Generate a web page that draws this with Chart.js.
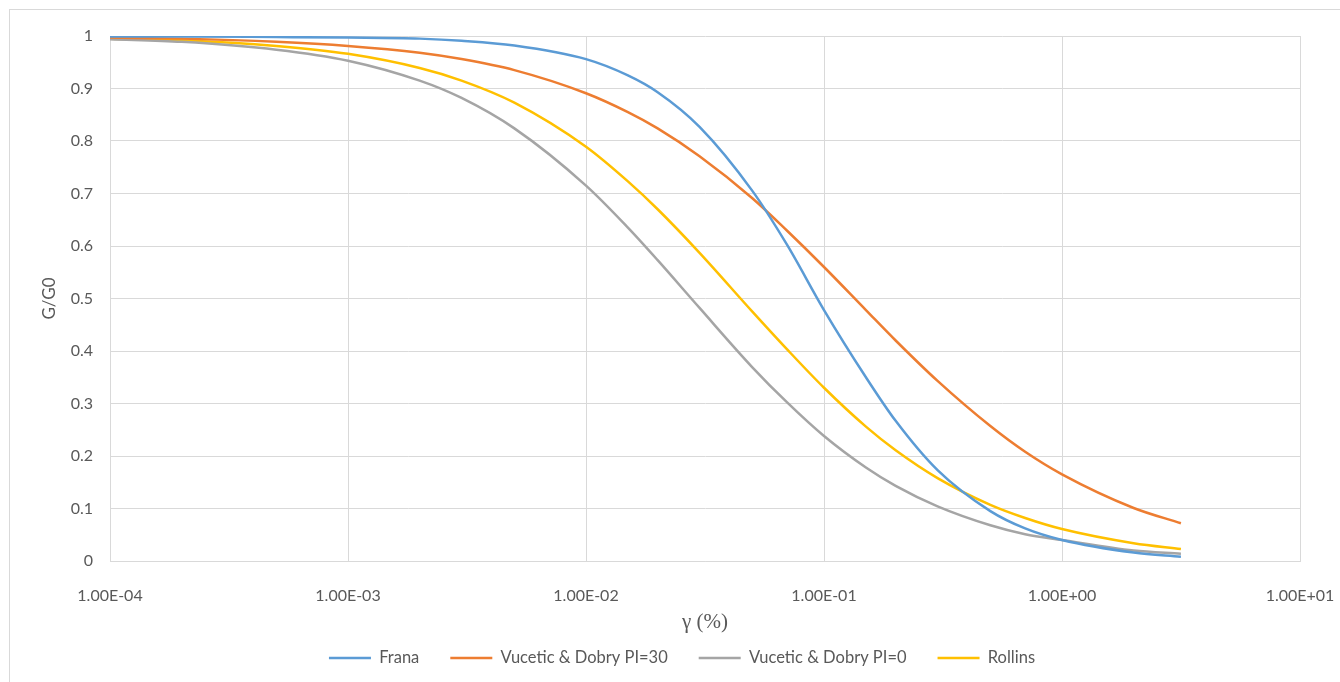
<!DOCTYPE html>
<html>
<head>
<meta charset="utf-8">
<script src="https://cdn.jsdelivr.net/npm/chart.js@4.4.1/dist/chart.umd.min.js"></script>
<style>
    html, body { margin: 0; padding: 0; background: #ffffff; }
    #wrap { position: relative; width: 1340px; height: 682px; overflow: hidden; }
    #frame { position: absolute; left: 9px; top: 9px; width: 1340px; height: 690px; border: 1px solid #d9d9d9; box-sizing: border-box; }
    canvas { position: absolute; left: 0; top: 0; }
</style>
</head>
<body>
<div id="wrap">
    <div id="frame"></div>
    <canvas id="chart" width="1340" height="682"></canvas>
</div>
<script>
// Shear strain (%) - shared x values of all curves
const STRAIN = [1e-4, 2e-4, 5e-4, 1e-3, 2e-3, 3e-3, 5e-3, 1e-2, 1.5e-2, 2e-2, 3e-2, 5e-2, 7e-2,
    1e-1, 1.5e-1, 2e-1, 3e-1, 5e-1, 7e-1, 1, 2, 3.16];

// G/G0 values
const FRANA = [0.999, 0.999, 0.998, 0.997, 0.995, 0.991, 0.982, 0.956, 0.925, 0.893, 0.827, 0.705, 0.602,
    0.478, 0.350, 0.267, 0.173, 0.095, 0.062, 0.040, 0.016, 0.008];
const VD_PI30 = [0.997, 0.995, 0.989, 0.981, 0.968, 0.956, 0.935, 0.891, 0.855, 0.824, 0.771, 0.691, 0.629,
    0.560, 0.478, 0.420, 0.343, 0.257, 0.208, 0.165, 0.101, 0.072];
const VD_PI0 = [0.994, 0.989, 0.974, 0.953, 0.915, 0.882, 0.824, 0.715, 0.635, 0.573, 0.482, 0.369, 0.302,
    0.238, 0.178, 0.143, 0.104, 0.068, 0.051, 0.040, 0.020, 0.014];
const ROLLINS = [0.995, 0.992, 0.981, 0.966, 0.939, 0.915, 0.873, 0.789, 0.723, 0.670, 0.587, 0.475, 0.403,
    0.330, 0.256, 0.211, 0.158, 0.107, 0.082, 0.061, 0.034, 0.023];

const SERIES_NAMES = ['Frana', 'Vucetic & Dobry PI=30', 'Vucetic & Dobry PI=0', 'Rollins'];
const SERIES_COLORS = ['#5B9BD5', '#ED7D31', '#A5A5A5', '#FFC000'];

// Axis ticks
const X_TICKS = [1e-4, 1e-3, 1e-2, 1e-1, 1, 10];
const X_TICK_LABELS = ['1.00E-04', '1.00E-03', '1.00E-02', '1.00E-01', '1.00E+00', '1.00E+01'];

const TEXT_COLOR = '#595959';
const GRID_COLOR = '#d9d9d9';

function toPoints(values) {
    return values.map((v, i) => ({ x: STRAIN[i], y: v }));
}

const seriesValues = [FRANA, VD_PI30, VD_PI0, ROLLINS];

const data = {
    datasets: seriesValues.map((values, i) => ({
        label: SERIES_NAMES[i],
        data: toPoints(values),
        borderColor: SERIES_COLORS[i],
        backgroundColor: SERIES_COLORS[i],
        borderWidth: 2.5,
        pointRadius: 0,
        cubicInterpolationMode: 'monotone',
        fill: false
    }))
};

new Chart(document.getElementById('chart'), {
    type: 'line',
    data,
    options: {
        responsive: false,
        animation: false,
        layout: {
            padding: { left: 64, right: 40, top: 36, bottom: 5.75 }
        },
        plugins: {
            tooltip: { enabled: false },
            legend: {
                display: true,
                position: 'bottom',
                labels: {
                    color: TEXT_COLOR,
                    font: { family: 'Lato', size: 16.5 },
                    usePointStyle: true,
                    pointStyle: 'line',
                    pointStyleWidth: 42,
                    padding: 31
                }
            }
        },
        scales: {
            x: {
                type: 'logarithmic',
                min: 1e-4,
                max: 10,
                afterBuildTicks: (axis) => {
                    axis.ticks = X_TICKS.map(v => ({ value: v }));
                },
                afterFit: (axis) => {
                    // keep the plot edges fixed, tick labels may overhang
                    axis.height = 57.75;
                    axis.paddingLeft = 0;
                    axis.paddingRight = 0;
                },
                ticks: {
                    color: TEXT_COLOR,
                    font: { family: 'Lato', size: 16 },
                    padding: 25,
                    maxRotation: 0,
                    autoSkip: false,
                    callback: function(value) {
                        const idx = X_TICKS.findIndex(t => Math.abs(Math.log10(t) - Math.log10(value)) < 1e-6);
                        return idx >= 0 ? X_TICK_LABELS[idx] : '';
                    }
                },
                grid: { color: GRID_COLOR, drawTicks: false },
                border: { color: GRID_COLOR },
                title: {
                    display: true,
                    text: 'γ (%)',
                    color: TEXT_COLOR,
                    font: { family: 'Liberation Serif', size: 21 },
                    padding: { top: 0, bottom: -16 }
                }
            },
            y: {
                min: 0,
                max: 1,
                afterFit: (axis) => {
                    axis.width = 46;
                },
                ticks: {
                    stepSize: 0.1,
                    color: TEXT_COLOR,
                    font: { family: 'Lato', size: 16 },
                    padding: 17,
                    callback: (value) => String(Number(value.toFixed(1)))
                },
                grid: { color: GRID_COLOR, drawTicks: false },
                border: { color: GRID_COLOR },
                title: {
                    display: true,
                    text: 'G/G0',
                    color: TEXT_COLOR,
                    font: { family: 'Lato', size: 17 },
                    padding: { top: -25, bottom: 0 }
                }
            }
        }
    }
});
</script>
</body>
</html>
